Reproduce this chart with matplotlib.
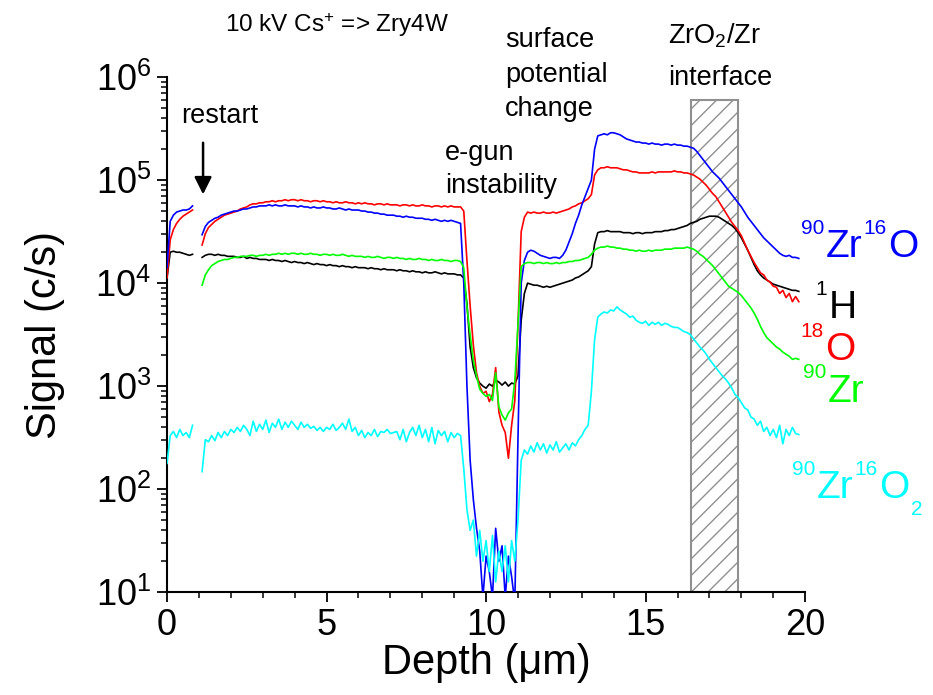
import numpy as np
import matplotlib
matplotlib.use('Agg')
import matplotlib.pyplot as plt
from matplotlib.patches import Rectangle
from matplotlib.ticker import LogLocator, MultipleLocator, NullFormatter

plt.rcParams['font.family'] = ['Liberation Sans', 'DejaVu Sans']
plt.rcParams['mathtext.fontset'] = 'custom'
plt.rcParams['mathtext.rm'] = 'Liberation Sans'
plt.rcParams['mathtext.it'] = 'Liberation Sans:italic'
plt.rcParams['mathtext.bf'] = 'Liberation Sans:bold'
plt.rcParams['hatch.color'] = '#505050'
plt.rcParams['hatch.linewidth'] = 1.0

# depth scale (um): first run before the restart, second run after it
depth_a = np.round(np.arange(0.0, 0.81, 0.1), 1)
depth_b = np.round(np.arange(1.1, 19.81, 0.1), 1)

# log10 of signal (c/s) for each species
zro_a = [4.15, 4.60, 4.66, 4.69, 4.70, 4.71, 4.71, 4.72, 4.75]
o18_a = [4.05, 4.42, 4.52, 4.58, 4.62, 4.65, 4.67, 4.69, 4.71]
h1_a = [4.05, 4.30, 4.31, 4.30, 4.30, 4.29, 4.28, 4.27, 4.28]
zro2_a = [2.25, 2.52, 2.56, 2.50, 2.58, 2.52, 2.55, 2.50, 2.62]

zro_b = [4.47, 4.55, 4.59, 4.61, 4.63, 4.64, 4.66, 4.67, 4.68, 4.69,
         4.70, 4.70, 4.71, 4.72, 4.72, 4.73, 4.74, 4.74, 4.75, 4.75,
         4.75, 4.76, 4.75, 4.76, 4.75, 4.75, 4.76, 4.75, 4.75, 4.75,
         4.74, 4.75, 4.74, 4.74, 4.73, 4.74, 4.73, 4.73, 4.74, 4.73,
         4.73, 4.72, 4.72, 4.73, 4.72, 4.71, 4.72, 4.71, 4.71, 4.71,
         4.70, 4.70, 4.69, 4.69, 4.68, 4.68, 4.67, 4.67, 4.66, 4.66,
         4.66, 4.65, 4.65, 4.64, 4.65, 4.64, 4.64, 4.63, 4.63, 4.63,
         4.62, 4.62, 4.61, 4.62, 4.61, 4.60, 4.61, 4.60, 4.61, 4.60,
         4.59, 4.58, 4.00, 3.00, 2.28, 1.90, 1.62, 1.40, 0.95, 1.35,
         1.20, 0.95, 1.62, 1.30, 1.45, 0.95, 1.35, 1.15, 0.90, 2.50,
         4.00, 4.22, 4.30, 4.32, 4.31, 4.29, 4.27, 4.26, 4.25, 4.24,
         4.25, 4.25, 4.24, 4.27, 4.32, 4.40, 4.48, 4.58, 4.66, 4.76,
         4.84, 4.92, 5.00, 5.30, 5.43, 5.44, 5.45, 5.44, 5.46, 5.46,
         5.45, 5.44, 5.42, 5.40, 5.39, 5.38, 5.37, 5.37, 5.36, 5.36,
         5.35, 5.36, 5.35, 5.35, 5.34, 5.35, 5.35, 5.34, 5.35, 5.34,
         5.34, 5.33, 5.33, 5.32, 5.31, 5.28, 5.24, 5.20, 5.16, 5.12,
         5.08, 5.05, 5.02, 4.98, 4.94, 4.90, 4.86, 4.82, 4.78, 4.74,
         4.69, 4.64, 4.60, 4.56, 4.52, 4.48, 4.44, 4.41, 4.38, 4.35,
         4.32, 4.29, 4.27, 4.26, 4.27, 4.25, 4.25, 4.24]

o18_b = [4.37, 4.48, 4.54, 4.57, 4.60, 4.62, 4.64, 4.66, 4.67, 4.68,
         4.69, 4.70, 4.72, 4.73, 4.74, 4.76, 4.77, 4.77, 4.78, 4.78,
         4.79, 4.79, 4.80, 4.79, 4.80, 4.80, 4.81, 4.80, 4.81, 4.81,
         4.80, 4.81, 4.80, 4.80, 4.79, 4.80, 4.80, 4.79, 4.80, 4.79,
         4.79, 4.78, 4.79, 4.78, 4.78, 4.79, 4.78, 4.78, 4.77, 4.78,
         4.77, 4.78, 4.77, 4.77, 4.76, 4.77, 4.77, 4.76, 4.77, 4.76,
         4.76, 4.76, 4.75, 4.76, 4.76, 4.75, 4.76, 4.75, 4.75, 4.76,
         4.75, 4.75, 4.74, 4.75, 4.75, 4.74, 4.75, 4.74, 4.75, 4.74,
         4.74, 4.74, 4.70, 4.22, 3.78, 3.40, 3.13, 3.00, 2.93, 2.95,
         2.85, 2.92, 3.18, 2.75, 2.62, 2.55, 2.30, 2.62, 2.86, 3.60,
         4.50, 4.64, 4.69, 4.68, 4.69, 4.68, 4.68, 4.69, 4.68, 4.68,
         4.69, 4.68, 4.69, 4.70, 4.71, 4.72, 4.74, 4.75, 4.77, 4.78,
         4.80, 4.82, 4.86, 5.05, 5.10, 5.12, 5.12, 5.13, 5.12, 5.12,
         5.12, 5.11, 5.10, 5.10, 5.09, 5.08, 5.08, 5.07, 5.07, 5.07,
         5.07, 5.08, 5.07, 5.08, 5.08, 5.08, 5.08, 5.08, 5.09, 5.08,
         5.08, 5.07, 5.07, 5.06, 5.05, 5.03, 5.01, 4.98, 4.95, 4.91,
         4.87, 4.84, 4.79, 4.74, 4.69, 4.64, 4.59, 4.55, 4.51, 4.46,
         4.39, 4.32, 4.26, 4.20, 4.15, 4.10, 4.08, 4.03, 4.01, 3.97,
         3.96, 3.90, 3.93, 3.86, 3.90, 3.82, 3.87, 3.82]

h1_b = [4.25, 4.27, 4.28, 4.28, 4.27, 4.28, 4.27, 4.27, 4.26, 4.26,
        4.26, 4.25, 4.25, 4.26, 4.24, 4.25, 4.24, 4.24, 4.23, 4.23,
        4.23, 4.22, 4.23, 4.22, 4.22, 4.21, 4.22, 4.21, 4.20, 4.21,
        4.20, 4.20, 4.19, 4.20, 4.19, 4.18, 4.19, 4.18, 4.18, 4.17,
        4.18, 4.17, 4.17, 4.16, 4.17, 4.16, 4.16, 4.15, 4.16, 4.15,
        4.15, 4.15, 4.14, 4.15, 4.14, 4.14, 4.13, 4.14, 4.13, 4.13,
        4.13, 4.12, 4.13, 4.12, 4.12, 4.11, 4.12, 4.11, 4.11, 4.10,
        4.11, 4.10, 4.10, 4.11, 4.10, 4.09, 4.10, 4.09, 4.09, 4.09,
        4.08, 4.08, 4.05, 3.80, 3.38, 3.18, 3.08, 3.03, 3.00, 2.98,
        3.02, 3.00, 3.06, 3.04, 3.01, 3.04, 3.00, 3.03, 3.02, 3.10,
        3.64, 3.90, 4.00, 3.99, 3.98, 3.98, 3.97, 3.96, 3.97, 3.96,
        3.97, 3.98, 3.99, 4.00, 4.01, 4.02, 4.03, 4.05, 4.06, 4.08,
        4.10, 4.12, 4.16, 4.38, 4.49, 4.50, 4.50, 4.51, 4.50, 4.50,
        4.50, 4.50, 4.49, 4.49, 4.49, 4.48, 4.49, 4.49, 4.48, 4.49,
        4.49, 4.49, 4.50, 4.50, 4.50, 4.51, 4.51, 4.52, 4.52, 4.53,
        4.54, 4.55, 4.56, 4.58, 4.59, 4.60, 4.62, 4.63, 4.64, 4.65,
        4.65, 4.65, 4.64, 4.62, 4.60, 4.58, 4.56, 4.53, 4.49, 4.44,
        4.38, 4.32, 4.25, 4.18, 4.12, 4.08, 4.05, 4.03, 4.01, 3.99,
        3.98, 3.97, 3.96, 3.95, 3.94, 3.93, 3.93, 3.92]

zr90_b = [3.98, 4.08, 4.13, 4.17, 4.19, 4.21, 4.22, 4.23, 4.23, 4.24,
          4.25, 4.25, 4.26, 4.26, 4.26, 4.27, 4.27, 4.26, 4.27, 4.27,
          4.28, 4.27, 4.28, 4.28, 4.29, 4.28, 4.29, 4.28, 4.29, 4.29,
          4.28, 4.29, 4.28, 4.28, 4.29, 4.28, 4.28, 4.27, 4.28, 4.28,
          4.27, 4.28, 4.27, 4.27, 4.28, 4.27, 4.26, 4.27, 4.26, 4.26,
          4.26, 4.25, 4.26, 4.25, 4.25, 4.26, 4.25, 4.24, 4.25, 4.25,
          4.24, 4.25, 4.24, 4.24, 4.23, 4.24, 4.23, 4.23, 4.24, 4.23,
          4.23, 4.22, 4.23, 4.22, 4.22, 4.23, 4.22, 4.22, 4.21, 4.22,
          4.22, 4.21, 4.15, 3.77, 3.50, 3.25, 3.10, 2.97, 2.93, 2.90,
          2.92, 2.86, 3.13, 2.80, 2.72, 2.67, 2.74, 2.78, 3.05, 3.60,
          4.16, 4.19, 4.20, 4.20, 4.19, 4.20, 4.20, 4.19, 4.20, 4.19,
          4.19, 4.20, 4.19, 4.20, 4.20, 4.21, 4.21, 4.22, 4.22, 4.23,
          4.24, 4.25, 4.28, 4.32, 4.34, 4.35, 4.35, 4.36, 4.35, 4.35,
          4.34, 4.34, 4.33, 4.33, 4.32, 4.32, 4.31, 4.32, 4.31, 4.31,
          4.32, 4.31, 4.32, 4.32, 4.32, 4.33, 4.33, 4.33, 4.34, 4.34,
          4.34, 4.34, 4.35, 4.34, 4.33, 4.31, 4.28, 4.26, 4.23, 4.20,
          4.17, 4.13, 4.09, 4.05, 4.01, 3.97, 3.95, 3.93, 3.91, 3.88,
          3.84, 3.80, 3.76, 3.71, 3.65, 3.58, 3.52, 3.47, 3.44, 3.41,
          3.38, 3.36, 3.33, 3.31, 3.29, 3.26, 3.27, 3.26]

zro2_b = [2.17, 2.48, 2.46, 2.52, 2.47, 2.55, 2.50, 2.56, 2.52, 2.58,
          2.55, 2.60, 2.56, 2.62, 2.58, 2.52, 2.66, 2.56, 2.63, 2.58,
          2.67, 2.55, 2.64, 2.60, 2.68, 2.58, 2.65, 2.60, 2.66, 2.62,
          2.58, 2.65, 2.60, 2.63, 2.59, 2.61, 2.57, 2.60, 2.56, 2.60,
          2.58, 2.63, 2.57, 2.60, 2.64, 2.58, 2.68, 2.56, 2.60, 2.52,
          2.57, 2.50, 2.55, 2.52, 2.58, 2.51, 2.56, 2.55, 2.58, 2.54,
          2.55, 2.56, 2.48, 2.58, 2.46, 2.55, 2.60, 2.52, 2.62, 2.50,
          2.58, 2.46, 2.60, 2.44, 2.57, 2.52, 2.56, 2.46, 2.55, 2.50,
          2.54, 2.52, 2.20, 1.80, 1.60, 1.70, 1.35, 1.60, 1.30, 1.50,
          1.20, 1.55, 1.10, 1.40, 1.20, 1.45, 1.10, 1.50, 1.30, 1.70,
          2.28, 2.38, 2.34, 2.42, 2.36, 2.45, 2.38, 2.44, 2.35, 2.43,
          2.38, 2.46, 2.36, 2.40, 2.44, 2.38, 2.45, 2.42, 2.48, 2.52,
          2.58, 2.62, 2.95, 3.45, 3.67, 3.70, 3.72, 3.71, 3.74, 3.73,
          3.77, 3.74, 3.72, 3.70, 3.67, 3.68, 3.64, 3.62, 3.61, 3.63,
          3.59, 3.62, 3.60, 3.62, 3.59, 3.61, 3.60, 3.58, 3.57, 3.57,
          3.55, 3.53, 3.52, 3.50, 3.46, 3.42, 3.38, 3.35, 3.31, 3.26,
          3.22, 3.18, 3.14, 3.10, 3.07, 3.03, 2.98, 2.92, 2.89, 2.84,
          2.79, 2.77, 2.70, 2.68, 2.62, 2.66, 2.56, 2.60, 2.52, 2.58,
          2.50, 2.62, 2.44, 2.58, 2.52, 2.60, 2.54, 2.53]

# ZrO2/Zr interface band (um) and its top (c/s)
interface = (16.43, 17.89)
interface_top = 6e5

fig = plt.figure(figsize=(9.33, 6.95), dpi=100)
ax = fig.add_axes([0.179, 0.148, 0.684, 0.741])

ax.add_patch(Rectangle((interface[0], 10), interface[1] - interface[0], interface_top - 10,
                       facecolor='none', edgecolor='#909090', hatch='//', lw=1.5, zorder=1))

lw = 1.2
ax.plot(depth_a, 10 ** np.array(h1_a), color='black', lw=lw, zorder=2)
ax.plot(depth_b, 10 ** np.array(h1_b), color='black', lw=lw, zorder=2)
ax.plot(depth_a, 10 ** np.array(o18_a), color='#ff0000', lw=lw, zorder=3)
ax.plot(depth_b, 10 ** np.array(o18_b), color='#ff0000', lw=lw, zorder=3)
ax.plot(depth_a, 10 ** np.array(zro_a), color='#0000ff', lw=lw, zorder=4)
ax.plot(depth_b, 10 ** np.array(zro_b), color='#0000ff', lw=lw, zorder=4)
ax.plot(depth_a, 10 ** np.array(zro2_a), color='#00ffff', lw=lw, zorder=5)
ax.plot(depth_b, 10 ** np.array(zro2_b), color='#00ffff', lw=lw, zorder=5)
ax.plot(depth_b, 10 ** np.array(zr90_b), color='#00ff00', lw=lw, zorder=6)

ax.set_yscale('log')
ax.set_xlim(0, 20)
ax.set_ylim(10, 1e6)
ax.xaxis.set_major_locator(MultipleLocator(5))
ax.xaxis.set_minor_locator(MultipleLocator(1))
ax.yaxis.set_major_locator(LogLocator(base=10, numticks=10))
ax.yaxis.set_minor_locator(LogLocator(base=10, subs=np.arange(2, 10), numticks=20))
ax.yaxis.set_minor_formatter(NullFormatter())

for side in ('top', 'right'):
    ax.spines[side].set_visible(False)
for side in ('left', 'bottom'):
    ax.spines[side].set_linewidth(1.5)
ax.tick_params(which='major', direction='out', length=7.5, width=1.3, labelsize=26, pad=4)
ax.tick_params(which='minor', direction='out', length=4.5, width=1.1)

ax.set_xlabel('Depth (μm)', fontsize=30, labelpad=0)
ax.set_ylabel('Signal (c/s)', fontsize=30, labelpad=22)

# annotations
tkw = dict(transform=ax.transAxes, fontsize=19.5, va='baseline', clip_on=False)
ax.text(0.0909, 1.087, '10 kV Cs$^{+}$ => Zry4W', transform=ax.transAxes, fontsize=17.5,
        va='baseline', clip_on=False)
ax.text(0.083, 0.911, 'restart', ha='center', **tkw)
ax.text(0.436, 0.839, 'e-gun', **tkw)
ax.text(0.436, 0.775, 'instability', **tkw)
ax.text(0.530, 1.058, 'surface', **tkw)
ax.text(0.530, 0.990, 'potential', **tkw)
ax.text(0.530, 0.924, 'change', **tkw)
ax.text(0.785, 1.066, 'ZrO$_2$/Zr', **tkw)
ax.text(0.785, 0.984, 'interface', **tkw)

ax.annotate('', xy=(1.13, 10 ** 4.835), xytext=(1.13, 10 ** 5.39),
            arrowprops=dict(arrowstyle='-|>', color='black', lw=1.8, mutation_scale=26))


def species_label(x, y, parts, color):
    """Chain pieces of an isotope label; kind is 'n' (normal), 'sup' or 'sub'."""
    prev = None
    for s, kind in parts:
        size = 28 if kind == 'n' else 15
        dy = {'n': 0, 'sup': 17, 'sub': -12}[kind]
        if prev is None:
            prev = ax.annotate(s, xy=(x, y), xycoords='axes fraction', xytext=(0, dy),
                               textcoords='offset points', fontsize=size, color=color,
                               va='baseline', ha='left', annotation_clip=False)
        else:
            prev = ax.annotate(s, xy=(1, y), xycoords=(prev, ax.transAxes), xytext=(1, dy),
                               textcoords='offset points', fontsize=size, color=color,
                               va='baseline', ha='left', annotation_clip=False)


species_label(0.993, 0.650, [('90', 'sup'), ('Zr', 'n'), ('16', 'sup'), ('O', 'n')], '#0000ff')
species_label(1.016, 0.532, [('1', 'sup'), ('H', 'n')], 'black')
species_label(0.993, 0.450, [('18', 'sup'), ('O', 'n')], '#ff0000')
species_label(0.996, 0.369, [('90', 'sup'), ('Zr', 'n')], '#00ff00')
species_label(0.979, 0.1825, [('90', 'sup'), ('Zr', 'n'), ('16', 'sup'), ('O', 'n'), ('2', 'sub')],
              '#00ffff')

fig.savefig('out.png', dpi=100)
